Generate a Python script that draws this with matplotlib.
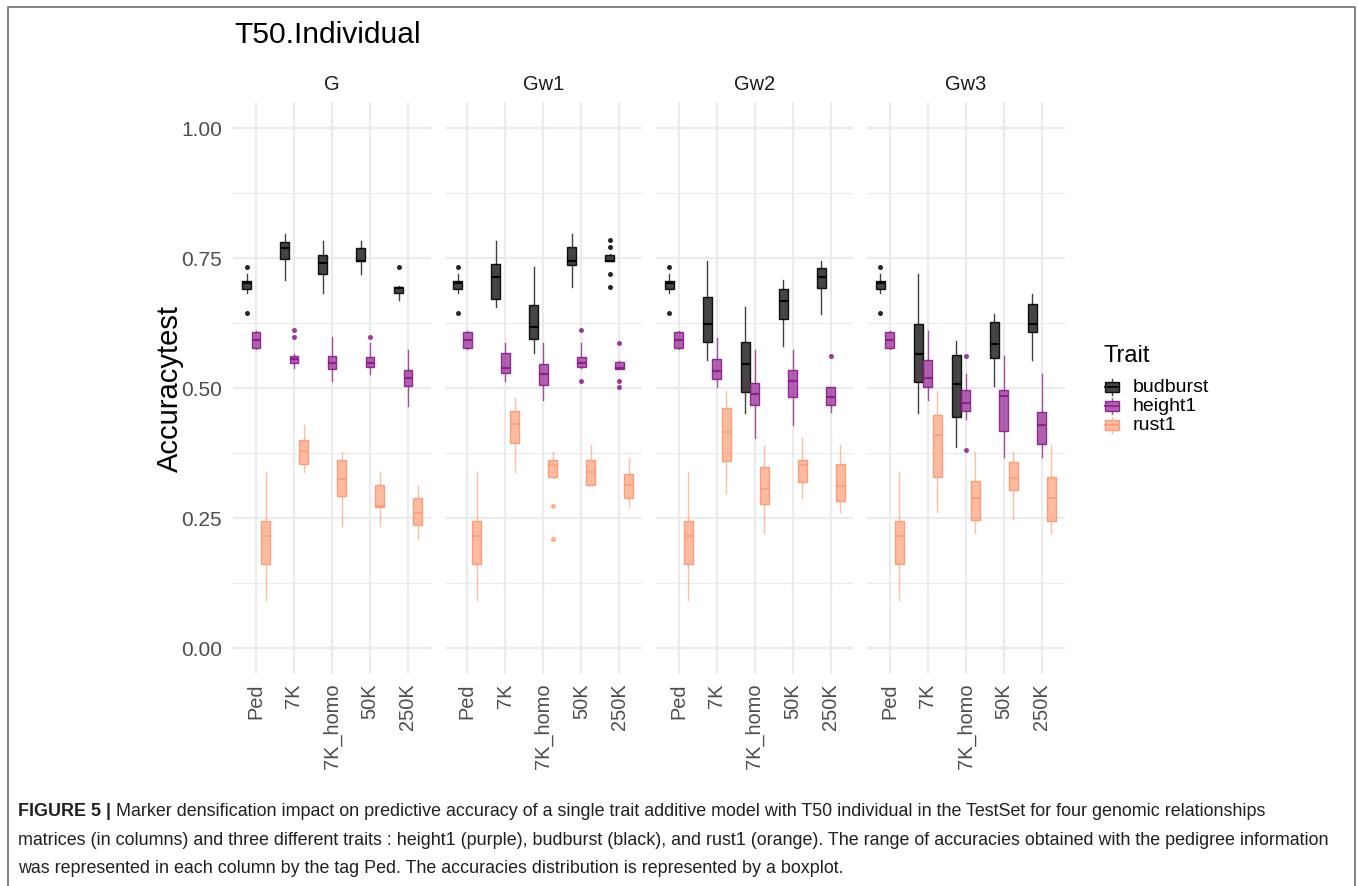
import matplotlib
matplotlib.use("Agg")
import matplotlib.pyplot as plt
from matplotlib.patches import Rectangle
from matplotlib.lines import Line2D

W, H = 1358, 887

panels = ["G", "Gw1", "Gw2", "Gw3"]
categories = ["Ped", "7K", "7K_homo", "50K", "250K"]
traits = ["budburst", "height1", "rust1"]

# (lower whisker, Q1, median, Q3, upper whisker) per category, per panel
budburst_G   = [(.683, .691, .701, .706, .719), (.708, .749, .770, .781, .796), (.683, .720, .740, .756, .783), (.720, .744, .745, .769, .783), (.669, .682, .693, .695, .696)]
budburst_Gw1 = [(.683, .691, .701, .706, .719), (.656, .672, .713, .739, .783), (.567, .595, .617, .659, .732), (.694, .737, .745, .771, .796), (.744, .744, .745, .755, .758)]
budburst_Gw2 = [(.683, .691, .701, .706, .719), (.554, .588, .624, .675, .745), (.451, .492, .547, .588, .655), (.580, .633, .668, .691, .707), (.643, .693, .713, .730, .745)]
budburst_Gw3 = [(.683, .691, .701, .706, .719), (.451, .512, .565, .624, .720), (.387, .444, .508, .563, .591), (.503, .557, .585, .626, .642), (.554, .608, .624, .662, .681)]

height1_G   = [(.575, .577, .592, .608, .610), (.538, .549, .556, .562, .565), (.513, .537, .549, .562, .599), (.526, .541, .549, .559, .586), (.465, .504, .520, .535, .574)]
height1_Gw1 = [(.575, .577, .592, .608, .610), (.513, .529, .538, .568, .586), (.477, .505, .526, .547, .586), (.538, .540, .549, .559, .586), (.537, .537, .538, .550, .551)]
height1_Gw2 = [(.575, .577, .592, .608, .610), (.501, .517, .532, .556, .597), (.403, .468, .489, .510, .574), (.429, .482, .513, .535, .574), (.453, .468, .483, .501, .502)]
height1_Gw3 = [(.575, .577, .592, .608, .610), (.477, .501, .520, .553, .610), (.441, .455, .471, .497, .526), (.367, .418, .484, .497, .562), (.367, .392, .428, .453, .526)]

rust1_G   = [(.092, .161, .215, .244, .338), (.339, .354, .378, .400, .429), (.235, .292, .325, .362, .376), (.235, .272, .273, .313, .338), (.210, .237, .260, .288, .312)]
rust1_Gw1 = [(.092, .161, .215, .244, .338), (.339, .394, .430, .455, .480), (.326, .329, .352, .361, .376), (.313, .313, .338, .361, .390), (.274, .289, .313, .335, .365)]
rust1_Gw2 = [(.092, .161, .215, .244, .338), (.299, .359, .416, .461, .494), (.222, .276, .306, .348, .389), (.288, .319, .351, .361, .403), (.261, .283, .312, .354, .390)]
rust1_Gw3 = [(.092, .161, .215, .244, .338), (.261, .329, .410, .449, .494), (.222, .247, .289, .322, .376), (.248, .303, .326, .358, .376), (.222, .244, .289, .329, .390)]

# outliers per category, per panel
budburst_out_G   = [[.733, .644], [], [], [], [.733]]
budburst_out_Gw1 = [[.733, .644], [], [], [], [.785, .771, .720, .694]]
budburst_out_Gw2 = [[.733, .644], [], [], [], []]
budburst_out_Gw3 = [[.733, .644], [], [], [], []]
height1_out_G   = [[], [.611, .599], [], [.599], []]
height1_out_Gw1 = [[], [], [], [.611, .513], [.587, .513, .501]]
height1_out_Gw2 = [[], [], [], [], [.562]]
height1_out_Gw3 = [[], [], [.562, .380], [], []]
rust1_out_G   = [[], [], [], [], []]
rust1_out_Gw1 = [[], [], [.274, .209], [], []]
rust1_out_Gw2 = [[], [], [], [], []]
rust1_out_Gw3 = [[], [], [], [], []]

stats_by_trait = {
    "budburst": [budburst_G, budburst_Gw1, budburst_Gw2, budburst_Gw3],
    "height1": [height1_G, height1_Gw1, height1_Gw2, height1_Gw3],
    "rust1": [rust1_G, rust1_Gw1, rust1_Gw2, rust1_Gw3],
}
outliers_by_trait = {
    "budburst": [budburst_out_G, budburst_out_Gw1, budburst_out_Gw2, budburst_out_Gw3],
    "height1": [height1_out_G, height1_out_Gw1, height1_out_Gw2, height1_out_Gw3],
    "rust1": [rust1_out_G, rust1_out_Gw1, rust1_out_Gw2, rust1_out_Gw3],
}

y_ticks = [0.0, 0.25, 0.5, 0.75, 1.0]
y_ticklabels = ["0.00", "0.25", "0.50", "0.75", "1.00"]

title = "T50.Individual"
ylabel = "Accuracytest"
legend_title = "Trait"
caption_bold = "FIGURE 5 | "
caption_lines = [
    "Marker densification impact on predictive accuracy of a single trait additive model with T50 individual in the TestSet for four genomic relationships",
    "matrices (in columns) and three different traits : height1 (purple), budburst (black), and rust1 (orange). The range of accuracies obtained with the pedigree information",
    "was represented in each column by the tag Ped. The accuracies distribution is represented by a boxplot.",
]

base_colors = {"budburst": (0, 0, 0), "height1": (0.545, 0.10, 0.545), "rust1": (1.0, 0.627, 0.478)}
fill_alpha = {"budburst": 0.73, "height1": 0.68, "rust1": 0.72}
offsets = {"budburst": -0.25, "height1": 0.0, "rust1": 0.25}
box_w = 0.235

plt.rcParams["font.family"] = ["Liberation Sans", "DejaVu Sans"]

fig = plt.figure(figsize=(W / 100, H / 100), dpi=100)

def fx(x):
    return x / W

def fy(y):
    return 1 - y / H

panel_left0 = 233.2
panel_step = 211.3
panel_w = 197.6
panel_top, panel_bot = 103, 675

grid_c = "#EBEBEB"
axes = []
for pi, pname in enumerate(panels):
    left = panel_left0 + pi * panel_step
    ax = fig.add_axes([fx(left), fy(panel_bot), panel_w / W, (panel_bot - panel_top) / H])
    axes.append(ax)
    ax.set_xlim(-0.6, len(categories) - 1 + 0.6)
    ax.set_ylim(-0.05, 1.05)
    for s in ax.spines.values():
        s.set_visible(False)
    ax.set_axisbelow(True)
    ax.set_yticks(y_ticks)
    ax.set_yticks([0.125, 0.375, 0.625, 0.875], minor=True)
    ax.set_xticks(range(len(categories)))
    ax.grid(True, which="major", color=grid_c, lw=1.6)
    ax.grid(True, which="minor", axis="y", color=grid_c, lw=0.8)
    ax.tick_params(which="both", length=0)
    ax.set_xticklabels(categories, rotation=90, fontsize=14.4, color="#4D4D4D", va="top", ha="center")
    ax.tick_params(axis="x", pad=6)
    if pi == 0:
        ax.set_yticklabels(y_ticklabels, fontsize=15, color="#4D4D4D")
        ax.tick_params(axis="y", pad=8)
    else:
        ax.set_yticklabels([])
    ax.text(0.5, (panel_bot - 85) / (panel_bot - panel_top), pname, transform=ax.transAxes,
            ha="center", va="center", fontsize=14.4, color="#1A1A1A")

    for tr in traits:
        c = base_colors[tr]
        fa = fill_alpha[tr]
        st = []
        for ci, five in enumerate(stats_by_trait[tr][pi]):
            lo, q1, med, q3, hi = five
            st.append({"whislo": lo, "q1": q1, "med": med, "q3": q3, "whishi": hi,
                       "fliers": outliers_by_trait[tr][pi][ci]})
        pos = [ci + offsets[tr] for ci in range(len(categories))]
        edge = c + (0.9,) if tr != "rust1" else (0.97, 0.60, 0.45, 0.9)
        ax.bxp(st, positions=pos, widths=box_w, patch_artist=True, showcaps=False,
               boxprops=dict(facecolor=c + (fa,), edgecolor=edge, linewidth=1.0),
               medianprops=dict(color=edge, linewidth=1.6 if tr != "rust1" else 1.1),
               whiskerprops=dict(color=c + (0.75 if tr != "rust1" else 0.7,), linewidth=1.0),
               flierprops=dict(marker="o", markersize=3.6, markerfacecolor=c + (0.85,),
                               markeredgecolor="none"),
               manage_ticks=False)

# title and axis label
fig.text(fx(234), fy(35), title, fontsize=21.6, ha="left", va="center", color="black")
fig.text(fx(170), fy((panel_top + panel_bot) / 2), ylabel, rotation=90, fontsize=21,
         ha="center", va="center", color="black")

# legend
fig.text(fx(1104), fy(356), legend_title, fontsize=17, ha="left", va="center", color="black")
key_y = [388, 407, 426]
for tr, ky in zip(traits, key_y):
    c = base_colors[tr]
    edge = c + (0.9,) if tr != "rust1" else (0.97, 0.60, 0.45, 0.9)
    kx0, kx1 = 1105, 1119
    fig.add_artist(Rectangle((fx(kx0), fy(ky + 5)), (kx1 - kx0) / W, 10 / H,
                             transform=fig.transFigure, facecolor=c + (fill_alpha[tr],),
                             edgecolor=edge, lw=1.0))
    fig.add_artist(Line2D([fx(kx0), fx(kx1)], [fy(ky), fy(ky)], transform=fig.transFigure,
                          color=edge, lw=1.3))
    xm = fx((kx0 + kx1) / 2)
    fig.add_artist(Line2D([xm, xm], [fy(ky - 5), fy(ky - 8)], transform=fig.transFigure,
                          color=c + (0.75,), lw=1.0))
    fig.add_artist(Line2D([xm, xm], [fy(ky + 5), fy(ky + 8)], transform=fig.transFigure,
                          color=c + (0.75,), lw=1.0))
    fig.text(fx(1133), fy(ky), tr, fontsize=14, ha="left", va="center", color="black")

# frame
frame_c = "#6E6E6E"
fig.add_artist(Line2D([fx(7.5), fx(7.5), fx(1355), fx(1355)], [0, fy(8), fy(8), 0],
                      transform=fig.transFigure, color=frame_c, lw=1.2))

# caption
cap_font = ["Liberation Sans", "DejaVu Sans"]
cap_fs = 12.9
cap_col = "#231F20"
cap_y = [812, 841, 869]
renderer = fig.canvas.get_renderer()
tb = fig.text(fx(18), fy(cap_y[0]), caption_bold, fontsize=cap_fs, fontweight="bold",
              ha="left", va="center", color=cap_col, family=cap_font)
bb = tb.get_window_extent(renderer=renderer)
fig.text(bb.x1 / W, fy(cap_y[0]), caption_lines[0], fontsize=cap_fs, ha="left", va="center",
         color=cap_col, family=cap_font)
for line, y in zip(caption_lines[1:], cap_y[1:]):
    fig.text(fx(18), fy(y), line, fontsize=cap_fs, ha="left", va="center", color=cap_col,
             family=cap_font)

fig.savefig("out.png", dpi=100)
